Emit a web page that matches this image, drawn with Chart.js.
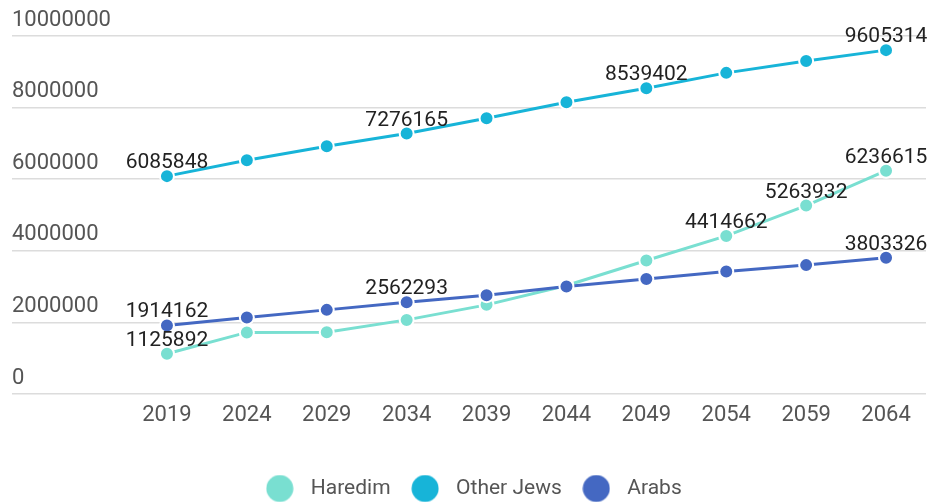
<!DOCTYPE html>
<html>
<head>
<meta charset="utf-8">
<script src="https://cdn.jsdelivr.net/npm/chart.js@4"></script>
<style>
  html, body { margin: 0; padding: 0; background: #fff; }
  #wrap { width: 935px; height: 502px; }
</style>
</head>
<body>
<div id="wrap"><canvas id="myChart"></canvas></div>
<script>
const years = ["2019", "2024", "2029", "2034", "2039", "2044", "2049", "2054", "2059", "2064"];
const haredim = [1125892, 1720000, 1725000, 2070000, 2490000, 3030000, 3730000, 4414662, 5263932, 6236615];
const otherJews = [6085848, 6530000, 6920000, 7276165, 7700000, 8150000, 8539402, 8970000, 9300000, 9605314];
const arabs = [1914162, 2140000, 2350000, 2562293, 2760000, 3000000, 3210000, 3420000, 3600000, 3803326];

// indexes of the points that get a value written above them
const haredimShown = [0, 7, 8, 9];
const otherJewsShown = [0, 3, 6, 9];
const arabsShown = [0, 3, 9];

const colors = ["#79dfd1", "#17b4d8", "#4468c2"];
const font = "Roboto, 'Noto Sans', sans-serif";

const pointLabels = {
    id: "pointLabels",
    afterDatasetsDraw(chart) {
        const ctx = chart.ctx;
        ctx.save();
        ctx.font = "21px " + font;
        ctx.fillStyle = "#222";
        ctx.textAlign = "center";
        ctx.textBaseline = "alphabetic";
        chart.data.datasets.forEach(function (ds, di) {
            let meta = chart.getDatasetMeta(di);
            ds.shown.forEach(function (i) {
                let p = meta.data[i];
                ctx.fillText(String(ds.data[i]), p.x, p.y - 8);
            });
        });
        ctx.restore();
    }
};

// round legend marker, drawn once per colour
function dot(color) {
    let c = document.createElement("canvas");
    c.width = 28;
    c.height = 28;
    let g = c.getContext("2d");
    g.fillStyle = color;
    g.beginPath();
    g.arc(14, 14, 13.5, 0, Math.PI * 2);
    g.fill();
    return c;
}
const dots = colors.map(dot);

function line(label, data, color, shown, order) {
    return {
        label: label,
        data: data,
        shown: shown,
        order: order,
        borderColor: color,
        backgroundColor: color,
        borderWidth: 3,
        pointRadius: 7,
        pointBackgroundColor: color,
        pointBorderColor: "#fff",
        pointBorderWidth: 2,
        tension: 0
    };
}

new Chart("myChart", {
    type: "line",
    data: {
        labels: years,
        datasets: [
            line("Haredim", haredim, colors[0], haredimShown, 2),
            line("Other Jews", otherJews, colors[1], otherJewsShown, 1),
            line("Arabs", arabs, colors[2], arabsShown, 0)
        ]
    },
    plugins: [pointLabels],
    options: {
        responsive: true,
        maintainAspectRatio: false,
        animation: false,
        layout: { padding: { left: 12, right: 6, top: 36, bottom: -7 } },
        plugins: {
            tooltip: { enabled: false },
            legend: {
                position: "bottom",
                labels: {
                    usePointStyle: true,
                    pointStyleWidth: 41,
                    padding: 14,
                    color: "#555",
                    font: { family: font, size: 21 },
                    sort: (a, b) => a.datasetIndex - b.datasetIndex,
                    generateLabels: function (chart) {
                        let items = Chart.defaults.plugins.legend.labels.generateLabels(chart);
                        items.forEach(function (it) { it.pointStyle = dots[it.datasetIndex]; });
                        return items;
                    }
                }
            }
        },
        scales: {
            x: {
                offset: true,
                grid: { display: false, drawTicks: false },
                border: { display: false },
                ticks: { color: "#555", padding: 8, font: { family: font, size: 22 } },
                afterFit: function (scale) { scale.height = 70; }
            },
            y: {
                min: 0,
                max: 10000000,
                grid: { color: "#dcdcdc", lineWidth: 1.5, tickLength: 115 },
                border: { display: false },
                ticks: {
                    stepSize: 2000000,
                    crossAlign: "far",
                    labelOffset: -16,
                    color: "#555",
                    font: { family: font, size: 22 },
                    callback: v => String(v)
                },
                afterFit: function (scale) { scale.width = 115; }
            }
        }
    }
});
</script>
</body>
</html>
